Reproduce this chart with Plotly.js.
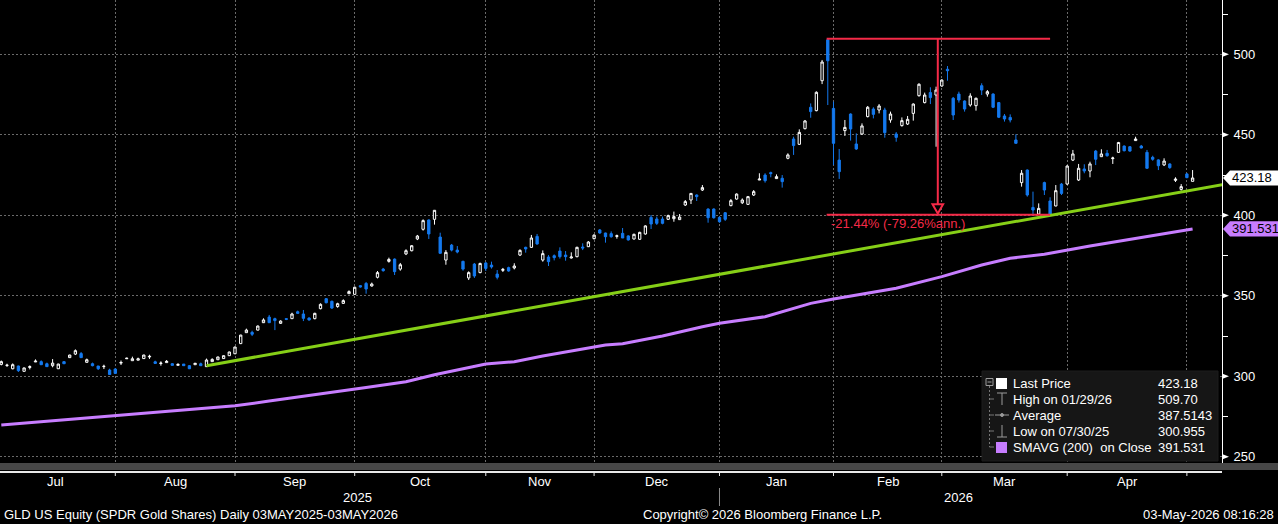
<!DOCTYPE html>
<html><head><meta charset="utf-8">
<script src="https://cdn.plot.ly/plotly-3.0.1.min.js"></script>
<style>html,body{margin:0;padding:0;background:#000;overflow:hidden}#chart{width:1278px;height:524px}</style>
</head><body><div id="chart"></div>
<script>
// ---- DATA (trading-day index 0 = 02 Jul 2025 ... 209 = 01 May 2026) ----
const openVals = [307.4,306.7,304.7,306.4,303.1,305.5,308.9,309.1,307.8,306.6,304.7,309.1,311.6,313.8,314.1,308.7,307.8,306.4,306.0,303.9,
304.5,308.2,310.9,309.7,310.0,311.0,312.0,309.0,307.9,308.5,307.8,306.8,307.6,306.6,307.2,307.8,306.0,309.1,310.3,311.0,
312.8,314.0,320.3,327.1,327.3,328.7,333.3,336.8,335.8,332.9,335.8,335.8,340.1,338.7,336.2,335.8,342.0,348.2,346.6,343.3,
345.3,351.3,350.9,356.3,357.7,356.1,361.5,366.6,371.4,372.8,366.6,376.0,378.0,385.3,391.3,397.1,397.5,386.5,372.2,381.5,
378.4,371.4,361.1,369.7,364.4,370.4,369.1,363.5,365.8,367.5,367.3,375.3,380.1,380.1,386.9,372.2,374.1,374.9,377.8,375.3,
373.5,374.3,380.3,380.5,385.5,390.9,389.0,388.6,386.9,388.8,387.2,385.3,385.1,388.4,398.7,397.7,397.7,397.5,397.9,397.3,
406.4,409.5,412.6,415.7,403.9,403.9,398.7,401.6,406.0,410.1,407.8,406.8,412.6,421.9,425.0,426.5,422.8,423.0,435.4,447.4,
444.1,453.8,467.1,465.0,483.6,509.0,466.4,434.3,452.6,462.9,444.3,450.5,461.3,466.0,465.4,465.4,459.2,450.5,455.7,456.7,
463.3,474.3,470.0,476.2,474.7,480.3,490.7,472.7,475.3,471.0,468.5,468.1,480.5,475.3,475.3,470.0,461.7,460.8,446.8,420.3,
428.1,404.9,400.8,420.3,408.9,405.8,419.4,419.4,434.3,421.9,428.8,427.5,439.9,436.4,438.5,435.2,439.1,443.0,442.6,446.4,
443.0,439.1,436.0,434.4,431.3,431.9,421.7,416.1,425.7,421.1];
const highVals = [309.8,307.8,308.0,306.6,305.4,306.8,310.5,309.9,308.5,310.7,307.8,309.3,313.4,316.7,315.1,311.0,308.5,306.4,307.2,304.7,
305.0,309.8,311.6,312.2,311.6,313.4,313.4,309.7,309.3,310.1,308.2,308.0,307.6,307.0,308.3,308.5,311.0,311.2,312.2,313.0,
315.3,318.4,325.8,329.6,328.3,331.6,336.0,338.1,336.4,334.8,336.2,339.5,340.8,341.2,336.6,339.5,345.3,348.6,347.0,345.7,
347.8,353.4,355.7,356.7,358.6,358.2,365.4,367.3,373.7,373.2,370.4,378.9,381.5,387.8,397.5,397.5,403.3,389.2,378.4,382.2,
380.9,371.8,365.2,370.4,370.6,371.0,371.2,366.0,367.3,368.1,370.2,378.9,380.5,387.8,388.4,378.2,375.3,375.7,380.1,377.8,
377.0,380.5,382.6,384.0,388.2,391.5,389.2,390.0,388.0,392.1,387.6,388.6,389.8,393.8,400.2,399.2,399.2,400.4,402.3,400.8,
409.5,413.8,413.0,418.8,404.3,404.3,399.2,402.0,410.1,413.6,410.5,412.0,415.7,426.1,426.1,427.1,425.4,425.0,438.5,448.8,
453.4,459.2,469.5,477.0,496.5,509.7,470.6,441.2,459.2,463.3,450.9,457.1,467.9,467.1,469.1,466.8,464.4,451.7,460.8,461.7,
469.5,482.0,476.2,479.5,479.9,484.5,492.7,473.5,476.8,471.4,475.8,473.1,482.0,477.8,475.8,470.4,462.9,462.7,450.3,428.1,
428.5,414.7,407.4,420.9,411.2,418.8,420.1,431.0,440.6,431.9,431.7,433.3,440.6,441.0,440.6,436.4,445.6,443.4,443.0,448.8,
443.7,440.6,437.0,434.8,435.4,432.3,423.6,419.4,426.1,428.1];
const lowVals = [306.8,305.8,304.3,302.7,302.9,304.3,308.9,307.2,306.0,305.6,304.5,307.8,311.4,313.2,311.6,308.5,306.2,303.9,304.5,300.955,
301.6,307.0,310.9,309.7,310.0,310.8,310.8,308.0,306.6,308.5,306.8,306.8,306.6,304.5,307.2,306.6,305.8,309.1,310.1,310.8,
312.6,313.8,320.0,327.1,325.0,328.5,333.1,333.1,328.7,332.5,334.9,335.6,338.7,334.3,334.6,335.4,341.6,345.3,341.8,342.6,
345.1,351.1,350.7,355.1,351.3,355.7,360.8,365.0,370.6,362.9,365.6,375.3,377.6,384.6,390.5,385.3,394.2,376.2,369.3,377.6,
376.4,365.6,359.8,361.1,364.0,365.4,366.9,360.2,364.8,365.0,366.4,374.7,376.8,379.7,381.7,371.2,368.5,372.0,373.1,371.8,
373.1,373.9,378.4,380.3,385.0,388.6,383.0,386.1,385.5,385.9,384.3,384.9,384.7,388.0,391.5,394.0,394.4,397.1,396.0,397.1,
405.8,407.0,408.9,415.1,395.4,397.9,395.4,396.5,405.6,409.7,407.0,406.4,412.0,421.9,420.3,423.6,422.8,417.2,434.8,437.5,
443.7,453.4,460.6,464.6,481.5,468.5,431.2,422.6,449.3,446.4,440.6,449.9,460.8,460.2,463.3,448.2,457.5,445.7,455.1,456.1,
458.8,473.7,469.5,469.1,442.6,479.9,483.6,459.2,470.0,464.4,467.5,465.0,474.7,473.7,466.6,460.4,458.2,457.7,444.7,417.8,
411.6,400.8,400.42,412.6,400.5,405.6,412.6,419.0,433.7,421.3,426.1,423.6,431.2,436.2,436.4,431.9,438.8,439.7,439.5,446.2,
441.6,428.9,433.9,428.1,430.6,428.9,420.7,415.3,423.0,421.1];
const closeVals = [309.1,306.9,307.2,303.5,305.2,306.0,309.4,307.2,306.0,308.2,307.6,307.8,313.2,315.9,311.6,310.3,306.6,304.7,306.2,301.1,
301.8,308.6,311.2,310.9,310.9,313.2,312.4,308.0,308.2,309.3,306.8,307.4,306.6,304.7,308.1,306.6,310.1,310.5,312.0,312.8,
315.1,318.2,325.6,328.7,326.1,331.2,335.0,333.3,334.6,334.3,335.4,338.7,339.1,336.0,335.0,339.1,344.7,345.7,342.4,345.1,
347.0,352.6,355.3,355.5,354.2,357.3,364.4,365.6,372.6,365.0,369.3,378.0,381.1,387.1,396.7,388.4,403.1,376.4,377.0,378.4,
377.2,366.6,364.4,362.3,370.1,367.0,367.9,361.5,366.4,365.4,368.5,378.2,379.1,385.9,382.2,376.2,371.2,373.7,374.3,374.3,
374.1,380.1,379.7,383.4,387.7,389.0,386.7,386.7,387.3,385.9,384.7,388.2,389.4,393.4,394.6,395.0,395.0,399.8,399.2,398.9,
408.5,413.6,411.6,417.2,398.5,398.5,396.0,397.5,409.1,413.2,409.5,411.6,414.7,422.5,421.5,425.9,424.0,420.9,437.5,443.3,
451.5,458.6,464.4,476.4,495.2,496.0,444.7,427.1,454.6,453.6,441.2,455.5,467.1,462.7,467.9,451.3,462.9,448.4,458.8,459.6,
469.1,481.4,474.7,473.1,477.8,484.0,489.8,462.3,471.6,466.0,474.1,472.7,477.8,476.8,467.1,460.9,459.8,459.2,444.7,426.1,
412.6,403.3,404.3,415.7,400.6,415.3,413.6,430.6,438.1,429.2,427.5,431.9,434.8,438.1,437.0,435.6,445.2,440.1,439.9,447.4,
441.8,429.2,434.8,430.8,433.7,429.6,422.5,417.8,423.4,423.18];

// 200-day simple moving average, read at selected trading days
const smaIdx  = [0,13,20,27,38,41,47,57,64,71,76,85,90,95,106,109,116,123,126,134,142,146,150,157,165,172,177,183,191,199,205,209];
const smaVals = [269.7,273.5,275.4,277.6,280.5,281.7,284.6,289.4,293.1,296.6,301.0,307.6,309.1,312.6,319.4,320.2,325.0,330.8,332.9,337.0,345.3,348.0,350.3,354.7,361.9,369.1,373.3,375.8,380.9,385.7,389.4,391.531];

// trend line (green)
const trendIdx  = [36, 214.2];
const trendVals = [306.6, 419.0];

// drawdown measurement (red)
const measureFrom = 144.8, measureTo = 184.0, measureAt = 164.3;
const measureHigh = 509.70, measureLow = 400.42;
const measureText = '-21.44% (-79.26%ann.)';

// axes labels
const monthEnds  = [20, 41, 62, 85, 104, 126, 146, 165, 187, 208];
const monthNames = ['Jul','Aug','Sep','Oct','Nov','Dec','Jan','Feb','Mar','Apr'];
const yearNames  = ['2025','2026'];
const yearPos    = [62.5, 168];
const yTicks     = [250,300,350,400,450,500];
const yMinor     = [275,325,375,425,475,525];

// legend
const legendLabels = ['Last Price','High on 01/29/26','Average','Low on 07/30/25','SMAVG (200)\u00a0 on Close'];
const legendValues = ['423.18','509.70','387.5143','300.955','391.531'];
const lastPrice = 423.18, smaLast = 391.531;

// ---- LAYOUT GEOMETRY ----
const plotW = 1222, plotH = 463;
const xMin = -0.228, xMax = 214.16, yMin = 246.15, yMax = 533.73;
const BLUE = '#1479ee', PURPLE = '#c77dff', GREEN = '#86cf17', RED = '#f52a47';
const FONT = '"Liberation Sans", Arial, "DejaVu Sans", sans-serif';
const px = v => v / plotW;                       // pixel x -> paper
const py = v => (plotH - v) / plotH;              // pixel y -> paper
const ppy = p => (p - yMin) / (yMax - yMin);      // price -> paper y
const unitPx = plotH / (yMax - yMin);             // pixels per price unit

const idx = openVals.map((_, i) => i);

const traces = [
  {type:'scatter', mode:'lines', x:smaIdx, y:smaVals, line:{color:PURPLE, width:3}, hoverinfo:'skip'},
  {type:'scatter', mode:'lines', x:trendIdx, y:trendVals, line:{color:GREEN, width:3}, hoverinfo:'skip'},
  {type:'candlestick', x:idx, open:openVals, high:highVals, low:lowVals, close:closeVals,
   increasing:{line:{color:'#ffffff', width:1}, fillcolor:'#000000'},
   decreasing:{line:{color:BLUE, width:1}, fillcolor:BLUE},
   whiskerwidth:0, hoverinfo:'skip'}
];

const shapes = [];
const ann = [];

// bottom band, axis line, month ticks, year separator
shapes.push({type:'rect', xref:'paper', yref:'paper', x0:0, x1:px(1278), y0:py(470), y1:py(463), fillcolor:'#474747', line:{width:0}});
shapes.push({type:'line', xref:'paper', yref:'paper', x0:0, x1:px(1222), y0:py(472), y1:py(472), line:{color:'#e8e8e8', width:2}});
monthEnds.forEach(m => shapes.push({type:'line', xref:'x', yref:'paper', x0:m, x1:m, y0:py(472), y1:py(476), line:{color:'#e8e8e8', width:1}}));
shapes.push({type:'line', xref:'x', yref:'paper', x0:monthEnds[5], x1:monthEnds[5], y0:py(488), y1:py(506), line:{color:'#8a8a8a', width:1}});

// y tick arrows
yTicks.forEach(t => {
  const c = ppy(t), d = 2.8 / plotH;
  shapes.push({type:'path', xref:'paper', yref:'paper', path:`M ${px(1222)} ${c+d} L ${px(1229)} ${c} L ${px(1222)} ${c-d} Z`, fillcolor:'#ffffff', line:{width:0}});
});

// red measurement
shapes.push({type:'line', xref:'x', yref:'y', x0:measureFrom, x1:measureTo, y0:measureHigh, y1:measureHigh, line:{color:RED, width:2}});
shapes.push({type:'line', xref:'x', yref:'y', x0:measureFrom, x1:measureTo, y0:measureLow, y1:measureLow, line:{color:RED, width:2}});
const triTop = measureLow + 10.5 / unitPx, triTip = measureLow + 1.2 / unitPx, triHalf = 5.3 / 5.7;
shapes.push({type:'line', xref:'x', yref:'y', x0:measureAt, x1:measureAt, y0:measureHigh, y1:triTop, line:{color:RED, width:2}});
shapes.push({type:'path', xref:'x', yref:'y', path:`M ${measureAt-triHalf} ${triTop} L ${measureAt+triHalf} ${triTop} L ${measureAt} ${triTip} Z`, fillcolor:'#000', line:{color:RED, width:2}});
ann.push({xref:'x', yref:'paper', x:measureFrom + 0.4, y:py(224), text:measureText, showarrow:false, xanchor:'left', yanchor:'middle', font:{family:FONT, size:13, color:RED}});

// price tags
function tag(price, color, label) {
  const c = ppy(price), h = 7.6 / plotH;
  shapes.push({type:'path', xref:'paper', yref:'paper', path:`M ${px(1223)} ${c} L ${px(1230)} ${c+h} L ${px(1278)} ${c+h} L ${px(1278)} ${c-h} L ${px(1230)} ${c-h} Z`, fillcolor:color, line:{width:0}});
  ann.push({xref:'paper', yref:'paper', x:px(1230), y:c, text:label, showarrow:false, xanchor:'left', yanchor:'middle', font:{family:FONT, size:13, color:'#000'}});
}
tag(lastPrice, '#ffffff', lastPrice.toFixed(2));
tag(smaLast, PURPLE, smaLast.toFixed(3));

// legend box
shapes.push({type:'rect', xref:'paper', yref:'paper', x0:px(982), x1:px(1218), y0:py(461), y1:py(371), fillcolor:'#161616', line:{color:'#1c1c1c', width:1}, layer:'above'});
const rows = [383, 399, 415, 431, 447];
const G = '#9a9a9a';
shapes.push({type:'rect', xref:'paper', yref:'paper', x0:px(986), x1:px(993), y0:py(385.5), y1:py(378.5), line:{color:G, width:1}, layer:'above'});
shapes.push({type:'line', xref:'paper', yref:'paper', x0:px(987.5), x1:px(991.5), y0:py(382), y1:py(382), line:{color:G, width:1}, layer:'above'});
shapes.push({type:'line', xref:'paper', yref:'paper', x0:px(989.5), x1:px(989.5), y0:py(386), y1:py(447), line:{color:'#777', width:1, dash:'2px,2px'}, layer:'above'});
rows.slice(1).forEach(r => shapes.push({type:'line', xref:'paper', yref:'paper', x0:px(989.5), x1:px(994), y0:py(r), y1:py(r), line:{color:'#777', width:1}, layer:'above'}));
shapes.push({type:'rect', xref:'paper', yref:'paper', x0:px(996), x1:px(1007), y0:py(389), y1:py(378), fillcolor:'#ffffff', line:{width:0}, layer:'above'});
shapes.push({type:'line', xref:'paper', yref:'paper', x0:px(997), x1:px(1007), y0:py(393), y1:py(393), line:{color:G, width:1}, layer:'above'});
shapes.push({type:'line', xref:'paper', yref:'paper', x0:px(1002), x1:px(1002), y0:py(393), y1:py(405), line:{color:G, width:1}, layer:'above'});
shapes.push({type:'line', xref:'paper', yref:'paper', x0:px(995), x1:px(1009), y0:py(415), y1:py(415), line:{color:G, width:1}, layer:'above'});
shapes.push({type:'circle', xref:'paper', yref:'paper', x0:px(1000.5), x1:px(1003.5), y0:py(416.5), y1:py(413.5), fillcolor:G, line:{color:G, width:1}, layer:'above'});
shapes.push({type:'line', xref:'paper', yref:'paper', x0:px(1002), x1:px(1002), y0:py(425), y1:py(437), line:{color:G, width:1}, layer:'above'});
shapes.push({type:'line', xref:'paper', yref:'paper', x0:px(997), x1:px(1007), y0:py(437), y1:py(437), line:{color:G, width:1}, layer:'above'});
shapes.push({type:'rect', xref:'paper', yref:'paper', x0:px(996), x1:px(1007), y0:py(453), y1:py(442), fillcolor:PURPLE, line:{width:0}, layer:'above'});
legendLabels.forEach((t, i) => {
  ann.push({xref:'paper', yref:'paper', x:px(1011), y:py(rows[i]), text:t, showarrow:false, xanchor:'left', yanchor:'middle', font:{family:FONT, size:13, color:'#fff'}});
  ann.push({xref:'paper', yref:'paper', x:px(1156), y:py(rows[i]), text:legendValues[i], showarrow:false, xanchor:'left', yanchor:'middle', font:{family:FONT, size:13, color:'#fff'}});
});

// month & year labels
monthNames.forEach((m, i) => {
  const a = i === 0 ? -1 : monthEnds[i-1];
  ann.push({xref:'x', yref:'paper', x:(a + monthEnds[i]) / 2, y:py(481), text:m, showarrow:false, xanchor:'center', yanchor:'middle', font:{family:FONT, size:13, color:'#fff'}});
});
yearNames.forEach((y, i) => ann.push({xref:'x', yref:'paper', x:yearPos[i], y:py(497), text:y, showarrow:false, xanchor:'center', yanchor:'middle', font:{family:FONT, size:13, color:'#fff'}}));

// footer
ann.push({xref:'paper', yref:'paper', x:px(2), y:py(514), text:'GLD US Equity (SPDR Gold Shares) Daily 03MAY2025-03MAY2026', showarrow:false, xanchor:'left', yanchor:'middle', font:{family:FONT, size:13, color:'#fff'}});
ann.push({xref:'paper', yref:'paper', x:px(762), y:py(514), text:'Copyright\u00a9 2026 Bloomberg Finance L.P.', showarrow:false, xanchor:'center', yanchor:'middle', font:{family:FONT, size:13, color:'#fff'}});
ann.push({xref:'paper', yref:'paper', x:px(1276), y:py(514), text:'03-May-2026 08:16:28', showarrow:false, xanchor:'right', yanchor:'middle', font:{family:FONT, size:13, color:'#fff'}});

const layout = {
  width:1278, height:524,
  margin:{l:0, r:56, t:0, b:61, pad:0},
  paper_bgcolor:'#000', plot_bgcolor:'#000',
  showlegend:false, hovermode:false, boxgap:0.42,
  font:{family:FONT, size:13, color:'#fff'},
  xaxis:{type:'linear', range:[xMin, xMax], tickmode:'array', tickvals:monthEnds, showticklabels:false, ticks:'',
         showgrid:true, gridcolor:'#6a6a6a', griddash:'2px,2px', gridwidth:1, zeroline:false, showline:false,
         rangeslider:{visible:false}, fixedrange:true},
  yaxis:{side:'right', range:[yMin, yMax], tickmode:'array', tickvals:yTicks, ticks:'outside', ticklen:8, tickcolor:'rgba(0,0,0,0)',
         showline:true, linecolor:'#ffffff', linewidth:1, showgrid:true, gridcolor:'#6a6a6a', griddash:'2px,2px', gridwidth:1,
         zeroline:false, tickfont:{family:FONT, size:13, color:'#fff'}, fixedrange:true,
         minor:{tickmode:'array', tickvals:yMinor, ticks:'outside', ticklen:5, tickcolor:'#ffffff', tickwidth:1, showgrid:false}},
  shapes:shapes, annotations:ann
};
Plotly.newPlot('chart', traces, layout, {staticPlot:true, displayModeBar:false});
</script></body></html>
